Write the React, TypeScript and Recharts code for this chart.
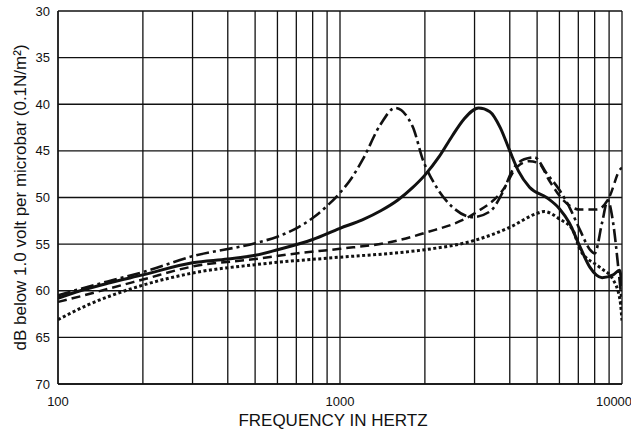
import { LineChart, Line, XAxis, YAxis, CartesianGrid, Label } from 'recharts';

// frequency (Hz) / response (dB below 1 V per microbar)
const solidHz = [100, 120, 150, 200, 300, 400, 500, 600, 800, 1000, 1200, 1400, 1600, 1800, 2000, 2250, 2500, 2750, 3100, 3400, 3700, 4000, 4300, 4700, 5400, 6000, 6500, 7100, 7700, 8500, 9300, 9800, 10000];
const solidDb = [60.8, 60.0, 59.2, 58.3, 57.0, 56.6, 56.2, 55.6, 54.5, 53.3, 52.4, 51.4, 50.3, 49.0, 47.6, 45.6, 43.4, 41.6, 40.4, 40.8, 42.5, 45.0, 47.2, 48.9, 50.0, 51.2, 52.7, 55.3, 57.5, 58.6, 58.3, 57.8, 59.5];

const dashDotHz = [100, 120, 150, 200, 300, 500, 600, 700, 800, 900, 1000, 1100, 1210, 1390, 1570, 1810, 1970, 2200, 2500, 2960, 3400, 3780, 4100, 4500, 4900, 5400, 6000, 6500, 7100, 7700, 8000, 8500, 8900, 9300, 9700, 10000];
const dashDotDb = [60.5, 59.8, 59.0, 58.0, 56.3, 54.9, 54.2, 53.3, 52.2, 50.9, 49.5, 47.9, 45.8, 42.2, 40.4, 42.4, 46.0, 48.9, 51.0, 52.1, 51.5, 49.4, 47.0, 45.9, 45.7, 47.4, 49.2, 51.0, 53.5, 55.6, 56.0, 52.7, 50.3, 52.7, 57.5, 61.5];

const dashedHz = [100, 120, 150, 200, 300, 500, 700, 1000, 1500, 2000, 3000, 3780, 4250, 4700, 5100, 5500, 6200, 7100, 8150, 9000, 9840, 10000];
const dashedDb = [61.2, 60.6, 59.8, 58.8, 57.4, 56.6, 56.0, 55.5, 54.8, 53.8, 51.7, 49.2, 46.7, 46.1, 46.4, 48.1, 50.3, 51.3, 51.3, 50.0, 47.0, 46.8];

const dottedHz = [100, 128, 155, 200, 300, 500, 1000, 1500, 2000, 3000, 4000, 5000, 5300, 6000, 6700, 7100, 8350, 9290, 9840, 10000];
const dottedDb = [63.1, 61.5, 60.5, 59.4, 58.1, 57.2, 56.4, 56.0, 55.6, 54.6, 53.2, 51.7, 51.5, 52.3, 53.5, 55.6, 57.5, 58.8, 61.0, 63.2];

const freqTicks = [100, 200, 300, 400, 500, 600, 700, 800, 900, 1000, 2000, 3000, 4000, 5000, 6000, 7000, 8000, 9000, 10000];
const labeledFreqs = [100, 1000, 10000];
const dbTicks = [30, 35, 40, 45, 50, 55, 60, 65, 70];

const toRows = (hz: number[], db: number[]) => hz.map((f, i) => ({ hz: f, db: db[i] }));

const FONT = '"Liberation Sans", Arial, sans-serif';
const INK = '#111';

// decade labels only; the last one is pulled left so it stays on the page
function FreqTick(props: any) {
  const { x, y, payload } = props;
  const v = payload.value as number;
  if (!labeledFreqs.includes(v)) return null;
  const last = v === labeledFreqs[labeledFreqs.length - 1];
  return (
    <text
      x={x}
      y={y}
      dy="0.71em"
      dx={last ? -8 : 0}
      textAnchor="middle"
      fill={INK}
      fontSize={13}
      fontFamily={FONT}
    >
      {v}
    </text>
  );
}

export default function App() {
  return (
    <div style={{ position: 'absolute', left: 0, top: 0, background: '#fff' }}>
      <LineChart width={631} height={431} margin={{ top: 11, right: 9, left: 0, bottom: 0 }}>
        <CartesianGrid stroke={INK} strokeWidth={1.3} />
        <XAxis
          dataKey="hz"
          type="number"
          scale="log"
          domain={[100, 10000]}
          allowDataOverflow
          ticks={freqTicks}
          interval={0}
          tickLine={false}
          axisLine={{ stroke: INK, strokeWidth: 1.3 }}
          tickMargin={7}
          height={47}
          tick={<FreqTick />}
        >
          <Label
            value="FREQUENCY IN HERTZ"
            position="insideBottom"
            offset={5}
            dx={-7}
            style={{ fill: INK, fontSize: 17, fontFamily: FONT }}
          />
        </XAxis>
        <YAxis
          type="number"
          reversed
          domain={[30, 70]}
          ticks={dbTicks}
          interval={0}
          width={58}
          tickLine={false}
          axisLine={{ stroke: INK, strokeWidth: 1.3 }}
          tick={{ fill: INK, fontSize: 13, fontFamily: FONT }}
        >
          <Label
            value="dB below 1.0 volt per microbar (0.1N/m²)"
            angle={-90}
            position="insideLeft"
            offset={20}
            style={{ fill: INK, fontSize: 17, fontFamily: FONT, textAnchor: 'middle' }}
          />
        </YAxis>
        <Line
          data={toRows(dottedHz, dottedDb)}
          dataKey="db"
          type="monotone"
          stroke={INK}
          strokeWidth={3}
          strokeDasharray="3 2.5"
          dot={false}
          activeDot={false}
          isAnimationActive={false}
        />
        <Line
          data={toRows(dashedHz, dashedDb)}
          dataKey="db"
          type="monotone"
          stroke={INK}
          strokeWidth={2.5}
          strokeDasharray="9 5"
          dot={false}
          activeDot={false}
          isAnimationActive={false}
        />
        <Line
          data={toRows(dashDotHz, dashDotDb)}
          dataKey="db"
          type="monotone"
          stroke={INK}
          strokeWidth={2.6}
          strokeDasharray="13 4 3 4"
          dot={false}
          activeDot={false}
          isAnimationActive={false}
        />
        <Line
          data={toRows(solidHz, solidDb)}
          dataKey="db"
          type="monotone"
          stroke={INK}
          strokeWidth={3}
          dot={false}
          activeDot={false}
          isAnimationActive={false}
        />
      </LineChart>
    </div>
  );
}
